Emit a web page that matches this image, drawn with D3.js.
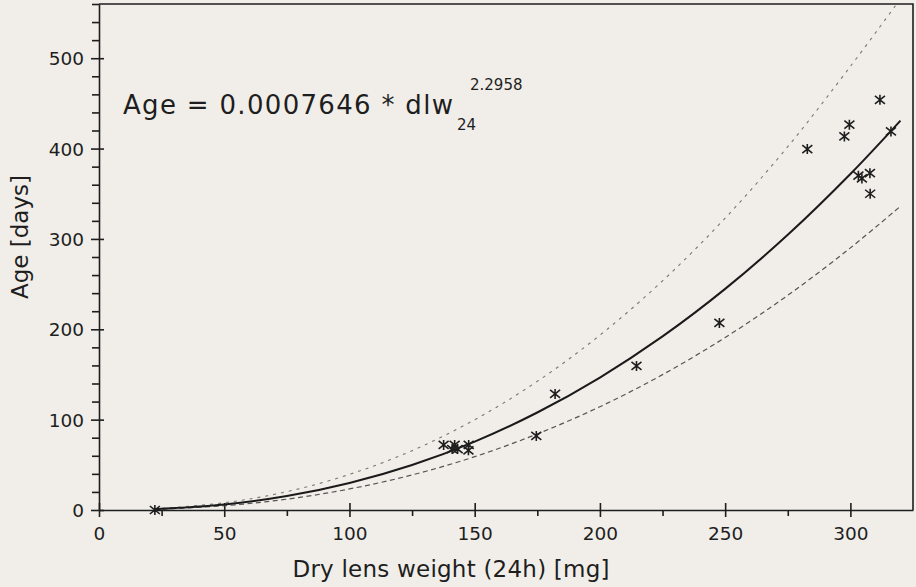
<!DOCTYPE html>
<html>
<head>
<meta charset="utf-8">
<script src="https://cdn.jsdelivr.net/npm/d3@7"></script>
<style>
  html, body { margin: 0; padding: 0; background: #f1eee9; }
  svg { display: block; }
  text { font-family: "DejaVu Sans", sans-serif; fill: #1e1e1e; }
</style>
</head>
<body>
<svg id="chart" width="916" height="587"></svg>
<script>
// measured points: dry lens weight (mg) and age (days)
var dlw = [22.3, 137.6, 142, 141, 143.2, 147.6, 147.5, 174.6, 182.1, 214.6, 247.7,
           282.8, 297.6, 299.6, 311.8, 316.2, 303.2, 304.6, 307.8, 307.9];
var age = [0, 72, 72, 67.5, 67.5, 72, 66, 82, 128.5, 159.5, 207,
           399.4, 413.4, 426.4, 454, 419, 370, 367, 372.8, 350];

// fitted curve and the two dashed bands
var fitX     = [22, 50, 75, 100, 125, 150, 175, 200, 225, 250, 275, 300, 320];
var fitAge   = [0.9, 6.1, 15.4, 29.9, 49.8, 75.7, 107.9, 146.6, 192.1, 244.7, 304.6, 371.9, 431];
var upperX   = [22, 50, 75, 100, 125, 150, 175, 200, 225, 250, 275, 300, 318.5];
var upperAge = [1.2, 8.0, 20.3, 39.4, 65.7, 99.9, 142.4, 193.5, 253.6, 323.0, 402.1, 490.9, 560];
var lowerX   = [22, 50, 75, 100, 125, 150, 175, 200, 225, 250, 275, 300, 320];
var lowerAge = [0.7, 4.7, 12.0, 23.3, 38.8, 59.0, 84.2, 114.3, 149.8, 190.9, 237.6, 290.1, 336.2];

var xMajor = [0, 50, 100, 150, 200, 250, 300];
var yMajor = [0, 100, 200, 300, 400, 500];

var svg = d3.select("#chart");
var pLeft = 99, pRight = 913, pTop = 4, pBottom = 510;

var x = d3.scaleLinear().domain([0, 325]).range([pLeft, pRight]);
var y = d3.scaleLinear().domain([0, 560]).range([pBottom, pTop]);

svg.append("clipPath").attr("id", "plot")
  .append("rect").attr("x", pLeft).attr("y", pTop).attr("width", pRight - pLeft).attr("height", pBottom - pTop);

// frame (top and right)
svg.append("path")
  .attr("d", "M" + pLeft + "," + pTop + "H" + pRight + "V" + pBottom)
  .attr("fill", "none").attr("stroke", "#1e1e1e").attr("stroke-width", 1.6);

// minor ticks
var xMinor = d3.range(25, 325, 50);
var yMinor = d3.range(20, 561, 20).filter(function(v){ return v % 100 != 0; });

var xAxis = d3.axisBottom(x).tickValues(xMajor).tickSizeInner(7).tickSizeOuter(0).tickPadding(10).tickFormat(d3.format("d"));
var yAxis = d3.axisLeft(y).tickValues(yMajor).tickSizeInner(8).tickSizeOuter(0).tickPadding(7).tickFormat(d3.format("d"));

var gx = svg.append("g").attr("transform", "translate(0," + pBottom + ")").call(xAxis);
var gy = svg.append("g").attr("transform", "translate(" + pLeft + ",0)").call(yAxis);

// major ticks cross the axis line
gx.selectAll(".tick line").attr("y1", -7);
gy.selectAll(".tick line").attr("x1", 5);

svg.append("g").attr("transform", "translate(0," + pBottom + ")")
  .call(d3.axisBottom(x).tickValues(xMinor).tickSizeInner(6).tickSizeOuter(0).tickFormat(""))
  .select(".domain").remove();
svg.append("g").attr("transform", "translate(" + pLeft + ",0)")
  .call(d3.axisLeft(y).tickValues(yMinor).tickSizeInner(7).tickSizeOuter(0).tickFormat(""))
  .select(".domain").remove();

svg.selectAll(".domain, .tick line").attr("stroke", "#1e1e1e").attr("stroke-width", 1.6);
gx.selectAll(".tick text").attr("font-size", 18.5).attr("font-family", "DejaVu Sans").attr("fill", "#1e1e1e");
gy.selectAll(".tick text").attr("font-size", 18.5).attr("font-family", "DejaVu Sans").attr("fill", "#1e1e1e")
  .attr("dy", "0.36em");

// curves
var line = d3.line().curve(d3.curveCatmullRom)
  .x(function(d){ return x(d[0]); }).y(function(d){ return y(d[1]); });
var curves = svg.append("g").attr("clip-path", "url(#plot)");

curves.append("path").datum(d3.zip(upperX, upperAge)).attr("d", line)
  .attr("fill", "none").attr("stroke", "#777").attr("stroke-width", 1.1).attr("stroke-dasharray", "3,5");
curves.append("path").datum(d3.zip(lowerX, lowerAge)).attr("d", line)
  .attr("fill", "none").attr("stroke", "#555").attr("stroke-width", 1.2).attr("stroke-dasharray", "5,3.5");
curves.append("path").datum(d3.zip(fitX, fitAge)).attr("d", line)
  .attr("fill", "none").attr("stroke", "#1a1a1a").attr("stroke-width", 2);

// asterisk markers
var r = 5;
var star = "M0," + (-r) + "V" + r +
           "M" + (-r) + "," + (-r * 0.8) + "L" + r + "," + (r * 0.8) +
           "M" + (-r) + "," + (r * 0.8) + "L" + r + "," + (-r * 0.8);
svg.append("g").selectAll("path.pt")
  .data(d3.zip(dlw, age))
  .enter().append("path").attr("class", "pt")
  .attr("transform", function(d){ return "translate(" + x(d[0]) + "," + y(d[1]) + ")"; })
  .attr("d", star)
  .attr("fill", "none").attr("stroke", "#1e1e1e").attr("stroke-width", 1.6);

// formula
svg.append("text").attr("x", 123).attr("y", 114).attr("font-size", 26)
  .attr("textLength", 330).attr("lengthAdjust", "spacing")
  .text("Age = 0.0007646 * dlw");
svg.append("text").attr("x", 470).attr("y", 90).attr("font-size", 15).text("2.2958");
svg.append("text").attr("x", 457).attr("y", 130).attr("font-size", 15).text("24");

// axis titles
svg.append("text").attr("x", 451).attr("y", 577).attr("font-size", 23)
  .attr("text-anchor", "middle").attr("textLength", 317).attr("lengthAdjust", "spacing")
  .text("Dry lens weight (24h) [mg]");
svg.append("text").attr("transform", "translate(28,237) rotate(-90)").attr("font-size", 23)
  .attr("text-anchor", "middle").attr("textLength", 124).attr("lengthAdjust", "spacing")
  .text("Age [days]");
</script>
</body>
</html>
